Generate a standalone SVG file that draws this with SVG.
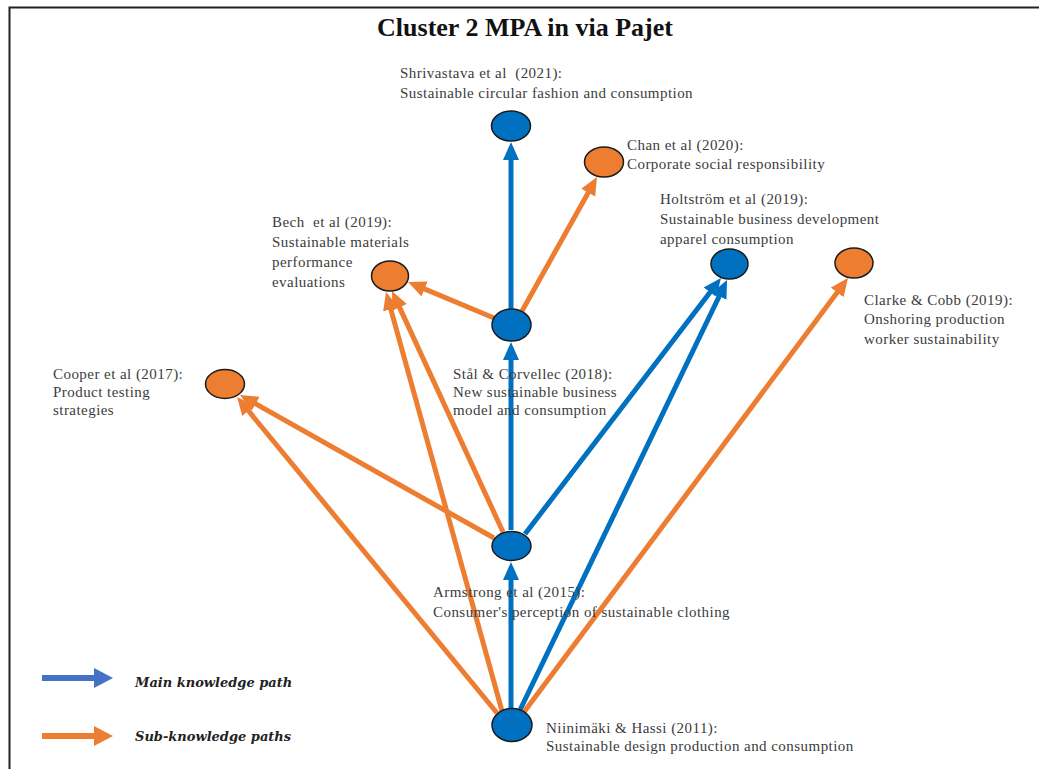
<svg xmlns="http://www.w3.org/2000/svg" width="1039" height="769" viewBox="0 0 1039 769">
  <style>
    .lbl { font-family: "Liberation Serif", "Times New Roman", serif; font-size: 15px; letter-spacing: 0.45px; fill: #3c3c3c; white-space: pre; }
    .title { font-family: "Liberation Serif", "Times New Roman", serif; font-size: 26px; font-weight: bold; fill: #111; }
    .leg { font-family: "DejaVu Serif", "Liberation Serif", serif; font-size: 13px; font-weight: bold; font-style: italic; fill: #222; }
    .main { stroke: #0070C0; stroke-width: 5; fill: none; }
    .sub { stroke: #ED7D31; stroke-width: 5; fill: none; }
    .nb { fill: #0070C0; stroke: #1a1a1a; stroke-width: 1.5; }
    .no { fill: #ED7D31; stroke: #1a1a1a; stroke-width: 1.5; }
  </style>
  <defs>
    <marker id="hb" markerUnits="userSpaceOnUse" markerWidth="20" markerHeight="18" refX="8" refY="8" orient="auto">
      <path d="M0,0 L18,8 L0,16 z" fill="#0070C0"/>
    </marker>
    <marker id="ho" markerUnits="userSpaceOnUse" markerWidth="20" markerHeight="18" refX="8" refY="8" orient="auto">
      <path d="M0,0 L18,8 L0,16 z" fill="#ED7D31"/>
    </marker>
  </defs>

  <rect width="1039" height="769" fill="#fff"/>
  <!-- frame -->
  <path d="M9.5,780 L9.5,7.5 L1050,7.5" fill="none" stroke="#222" stroke-width="2"/>

  <text class="title" x="525" y="36" text-anchor="middle">Cluster 2 MPA in via Pajet</text>

  <g id="connectors">
    <line class="main" x1="511" y1="709" x2="511" y2="572" marker-end="url(#hb)"/>
    <line class="main" x1="511" y1="530" x2="511" y2="352" marker-end="url(#hb)"/>
    <line class="main" x1="511" y1="309" x2="511" y2="152" marker-end="url(#hb)"/>
    <line class="sub" x1="522" y1="311" x2="592.1" y2="185.7" marker-end="url(#ho)"/>
    <line class="sub" x1="494" y1="318" x2="417.2" y2="285.9" marker-end="url(#ho)"/>
    <line class="main" x1="525" y1="534" x2="714.9" y2="285.9" marker-end="url(#hb)"/>
    <line class="main" x1="520" y1="710" x2="722.7" y2="289.0" marker-end="url(#hb)"/>
    <line class="sub" x1="494" y1="538" x2="248.7" y2="399.9" marker-end="url(#ho)"/>
    <line class="sub" x1="497" y1="713" x2="243.4" y2="404.7" marker-end="url(#ho)"/>
    <line class="sub" x1="503" y1="532" x2="396.2" y2="300.1" marker-end="url(#ho)"/>
    <line class="sub" x1="502" y1="711" x2="388.7" y2="301.6" marker-end="url(#ho)"/>
    <line class="sub" x1="524" y1="712" x2="842.0" y2="286.0" marker-end="url(#ho)"/>
  </g>

  <g id="shrivastava">
    <ellipse class="nb" cx="511" cy="126" rx="19.5" ry="15"/>
    <text class="lbl" x="400" y="78">Shrivastava et al  (2021):</text>
    <text class="lbl" x="400" y="98">Sustainable circular fashion and consumption</text>
  </g>
  <g id="chan">
    <ellipse class="no" cx="604" cy="162" rx="19.5" ry="15"/>
    <text class="lbl" x="627" y="150">Chan et al (2020):</text>
    <text class="lbl" x="627" y="169">Corporate social responsibility</text>
  </g>
  <g id="holtstrom">
    <ellipse class="nb" cx="729.5" cy="264" rx="18.5" ry="15"/>
    <text class="lbl" x="660" y="204">Holtström et al (2019):</text>
    <text class="lbl" x="660" y="224">Sustainable business development</text>
    <text class="lbl" x="660" y="244">apparel consumption</text>
  </g>
  <g id="clarke">
    <ellipse class="no" cx="854" cy="263" rx="19" ry="15"/>
    <text class="lbl" x="864" y="305">Clarke &amp; Cobb (2019):</text>
    <text class="lbl" x="864" y="324">Onshoring production</text>
    <text class="lbl" x="864" y="344">worker sustainability</text>
  </g>
  <g id="bech">
    <ellipse class="no" cx="390" cy="276" rx="18.5" ry="15"/>
    <text class="lbl" x="272" y="227">Bech  et al (2019):</text>
    <text class="lbl" x="272" y="247">Sustainable materials</text>
    <text class="lbl" x="272" y="267">performance</text>
    <text class="lbl" x="272" y="287">evaluations</text>
  </g>
  <g id="stal">
    <ellipse class="nb" cx="511.5" cy="325" rx="19.5" ry="16"/>
    <text class="lbl" x="453" y="379">Stål &amp; Corvellec (2018):</text>
    <text class="lbl" x="453" y="397">New sustainable business</text>
    <text class="lbl" x="453" y="415">model and consumption</text>
  </g>
  <g id="cooper">
    <ellipse class="no" cx="225" cy="384" rx="19.5" ry="14.5"/>
    <text class="lbl" x="53" y="379">Cooper et al (2017):</text>
    <text class="lbl" x="53" y="397">Product testing</text>
    <text class="lbl" x="53" y="415">strategies</text>
  </g>
  <g id="armstrong">
    <ellipse class="nb" cx="511.5" cy="546" rx="19.5" ry="14.5"/>
    <text class="lbl" x="433" y="597">Armstrong et al (2015):</text>
    <text class="lbl" x="433" y="617">Consumer's perception of sustainable clothing</text>
  </g>
  <g id="niinimaki">
    <ellipse class="nb" cx="512" cy="725" rx="20" ry="16.5"/>
    <text class="lbl" x="546" y="733">Niinimäki &amp; Hassi (2011):</text>
    <text class="lbl" x="546" y="751">Sustainable design production and consumption</text>
  </g>

  <g id="legend">
    <line x1="42" y1="678" x2="96" y2="678" stroke="#4472C4" stroke-width="6"/>
    <path d="M94,668 L113,678 L94,688 z" fill="#4472C4"/>
    <text class="leg" x="135" y="687">Main knowledge path</text>
    <line x1="42" y1="736" x2="96" y2="736" stroke="#ED7D31" stroke-width="6"/>
    <path d="M94,726 L113,736 L94,746 z" fill="#ED7D31"/>
    <text class="leg" x="135" y="741">Sub-knowledge paths</text>
  </g>
</svg>
